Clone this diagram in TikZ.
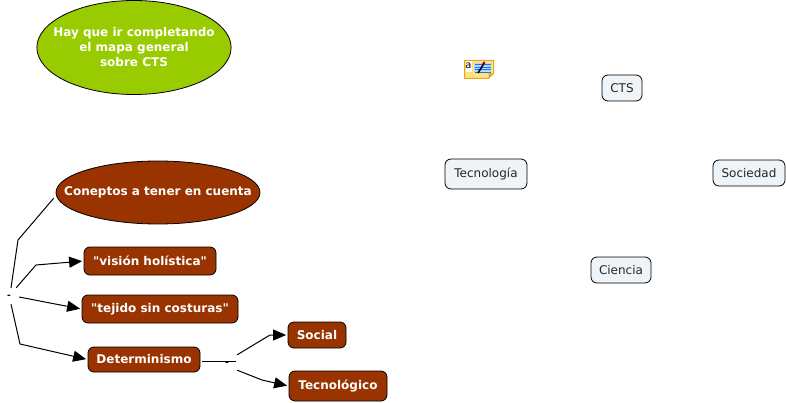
\documentclass[tikz,border=0pt]{standalone}
\usepackage{fontspec}
\setmainfont{DejaVu Sans}[Ligatures=TeXOff]
\usetikzlibrary{arrows.meta,shapes.geometric,calc}
\definecolor{brownfill}{HTML}{993300}
\definecolor{greenfill}{HTML}{99CC00}
\definecolor{palefill}{HTML}{EEF4F7}
\definecolor{noteyellow}{HTML}{FFE27A}
\definecolor{noteedge}{HTML}{E0A92A}
\tikzset{
  brownbox/.style={draw=black,line width=0.8pt,fill=brownfill,rounded corners=6pt,text=white,font=\fontsize{12}{14}\selectfont\bfseries,inner sep=0pt},
  palebox/.style={draw=black,line width=0.8pt,fill=palefill,rounded corners=6pt,text=black!85,font=\fontsize{12}{14}\selectfont,inner sep=0pt},
  oval/.style={draw=black,line width=0.8pt,ellipse,inner ysep=0pt,text=white,font=\fontsize{12}{15}\selectfont\bfseries,align=center},
  linkdash/.style={inner sep=0pt,minimum width=8pt,minimum height=8pt,font=\fontsize{9}{9}\selectfont\bfseries},
  link/.style={draw=black,line width=1pt},
  arrowlink/.style={link,-{Triangle[length=13pt,width=11pt]},shorten >=1.5pt},
}
\begin{document}
\begin{tikzpicture}[x=1pt,y=-1pt]
\useasboundingbox (0,0) rectangle (786,403);
\node[oval,fill=greenfill,minimum width=194pt,minimum height=94pt,inner xsep=-12pt] (note) at (134,47.5) {Hay que ir completando\\el mapa general\\sobre CTS};
\node[oval,fill=brownfill,minimum width=204pt,minimum height=63pt,inner xsep=-23pt] (concepts) at (158,192.5) {Coneptos a tener en cuenta};
\node[brownbox,minimum width=132pt,minimum height=28pt] (vision) at (150,261) {"visión holística"};
\node[brownbox,minimum width=156pt,minimum height=28pt] (tejido) at (160,309) {"tejido sin costuras"};
\node[brownbox,minimum width=112pt,minimum height=25pt] (determ) at (144,359.5) {Determinismo};
\node[brownbox,minimum width=58pt,minimum height=26pt] (social) at (317,335) {Social};
\node[brownbox,minimum width=98pt,minimum height=30pt] (tecnico) at (338,386) {Tecnológico};
\node[palebox,minimum width=40pt,minimum height=26pt] (cts) at (622,88) {CTS};
\node[palebox,minimum width=82pt,minimum height=30pt] (tecnologia) at (486,174) {Tecnología};
\node[palebox,minimum width=72pt,minimum height=26pt] (sociedad) at (749,173) {Sociedad};
\node[palebox,minimum width=60pt,minimum height=26pt] (ciencia) at (621,270) {Ciencia};
\node[linkdash] (hub) at (9,297) {-};
\node[linkdash] (hubb) at (227,364) {-};
\coordinate (a1) at (18,240);
\coordinate (a2) at (36,265);
\coordinate (a3) at (50,303);
\coordinate (a4) at (20,344);
\coordinate (b1) at (270,335);
\coordinate (b2) at (262,380);
\draw[link,shorten >=3pt] ($(hub.north)+(2,-5)$) -- (a1) -- (concepts.west |- 0,196);
\draw[arrowlink] ($(hub.north east)+(3,-5)$) -- (a2) -- (vision.west);
\draw[arrowlink] ($(hub.east)+(6,0)$) -- (a3) -- (tejido.west);
\draw[arrowlink] ($(hub.south)+(2,3)$) -- (a4) -- (determ.west);
\draw[link,shorten <=2pt] ($(determ.east)+(0,1.5)$) -- ($(hubb.east)+(5,-3)$);
\draw[arrowlink] ($(hubb.north east)+(6,-5)$) -- (b1) -- (social.west);
\draw[arrowlink] ($(hubb.south east)+(6,2)$) -- (b2) -- (tecnico.west);
% note icon
\draw[noteedge,fill=noteyellow,line width=1pt] (464.5,60.5) -- (493.5,60.5) -- (493.5,73.5) -- (488.5,78.5) -- (464.5,78.5) -- cycle;
\fill[white] (465.5,61.5) rectangle (472,72);
\fill[white!80!blue] (474,63) rectangle (491,73);
\foreach \yy in {64.5,67,69.5,72} \draw[blue!50!cyan,line width=0.5pt] (475,\yy) -- (491,\yy);
\draw[black,line width=1.6pt] (478,73) -- (483,65);
\draw[red!55!black,line width=2pt] (482.5,65.5) -- (484.5,62);
\node[inner sep=0pt,font=\fontsize{10}{10}\selectfont] (iconletter) at (468.5,66) {a};
\fill[noteedge] (488.5,78.5) -- (488.5,73.5) -- (493.5,73.5) -- cycle;
\end{tikzpicture}
\end{document}
